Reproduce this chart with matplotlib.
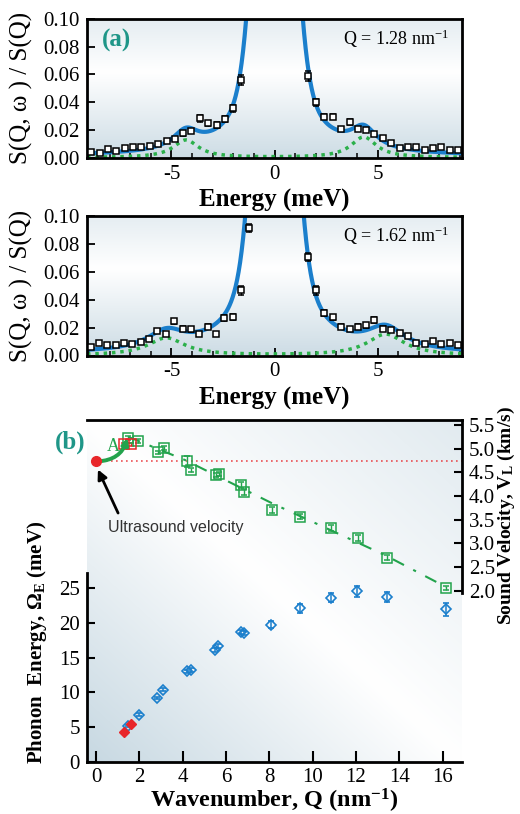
import numpy as np
import matplotlib
matplotlib.use("Agg")
import matplotlib.pyplot as plt

plt.rcParams['font.family'] = ['Liberation Serif', 'DejaVu Serif']
plt.rcParams['mathtext.fontset'] = 'custom'
plt.rcParams['mathtext.rm'] = 'Liberation Serif'
plt.rcParams['mathtext.it'] = 'Liberation Serif:italic'
plt.rcParams['mathtext.bf'] = 'Liberation Serif:bold'
plt.rcParams['axes.unicode_minus'] = False

BLUE = "#1b7fcc"
GREEN = "#22a34c"
DOTGREEN = "#2bb04a"
RED = "#e8262a"
TEAL = "#1f9688"
TINT = np.array([0.77, 0.84, 0.88])

# ---- panel (a), Q = 1.28 nm-1 ----
e1 = [-8.93, -8.49, -8.08, -7.68, -7.27, -6.87, -6.46, -6.06, -5.65, -5.24,
      -4.84, -4.43, -4.03, -3.62, -3.21, -2.81, -2.40, -1.99, -1.62,
      1.62, 2.01, 2.42, 2.82, 3.23, 3.64, 4.04, 4.45, 4.85, 5.26,
      5.67, 6.07, 6.48, 6.88, 7.29, 7.69, 8.10, 8.51, 8.91]
s1 = [0.0043, 0.0031, 0.0060, 0.0048, 0.0067, 0.0077, 0.0077, 0.0087, 0.0099, 0.0120,
      0.0135, 0.0175, 0.0195, 0.0284, 0.0248, 0.0236, 0.0279, 0.0356, 0.0558,
      0.0589, 0.0399, 0.0296, 0.0296, 0.0207, 0.0260, 0.0207, 0.0202, 0.0173, 0.0144,
      0.0103, 0.0067, 0.0075, 0.0077, 0.0053, 0.0072, 0.0079, 0.0053, 0.0055]
err1 = [0.001, 0.001, 0.001, 0.001, 0.001, 0.001, 0.001, 0.001, 0.001, 0.0012,
        0.0012, 0.0015, 0.0015, 0.0025, 0.002, 0.002, 0.0022, 0.0025, 0.0035,
        0.0035, 0.0025, 0.002, 0.002, 0.0015, 0.0022, 0.0015, 0.0015, 0.0012, 0.0012,
        0.001, 0.001, 0.001, 0.001, 0.001, 0.001, 0.001, 0.001, 0.001]
# fit: central line + two side peaks
central1 = dict(h=0.30, s=0.68, c=0.15, g=0.8, bg=0.001)
peak_pos1 = [-4.30, 4.33]
peak_amp1 = [0.0127, 0.0149]
peak_w1 = 0.75

# ---- panel (a), Q = 1.62 nm-1 ----
e2 = [-8.93, -8.52, -8.12, -7.71, -7.31, -6.90, -6.49, -6.09, -5.68, -5.28,
      -4.87, -4.46, -4.06, -3.65, -3.25, -2.84, -2.44, -2.03, -1.62, -1.23,
      1.62, 2.01, 2.42, 2.82, 3.23, 3.64, 4.04, 4.45, 4.85, 5.26,
      5.67, 6.07, 6.48, 6.88, 7.29, 7.69, 8.10, 8.51, 8.91]
s2 = [0.0064, 0.0088, 0.0074, 0.0074, 0.0088, 0.0079, 0.0096, 0.0118, 0.0176, 0.0152,
      0.0244, 0.0193, 0.0188, 0.0152, 0.0205, 0.0154, 0.0270, 0.0278, 0.0467, 0.0913,
      0.0707, 0.0467, 0.0302, 0.0273, 0.0205, 0.0188, 0.0205, 0.0217, 0.0253, 0.0193,
      0.0185, 0.0161, 0.0137, 0.0093, 0.0079, 0.0103, 0.0079, 0.0093, 0.0076]
err2 = [0.001, 0.001, 0.001, 0.001, 0.001, 0.001, 0.001, 0.0012, 0.0015, 0.0015,
        0.002, 0.0018, 0.0018, 0.0015, 0.0018, 0.0015, 0.0022, 0.0022, 0.003, 0.003,
        0.003, 0.003, 0.0022, 0.002, 0.0018, 0.0015, 0.0018, 0.0018, 0.002, 0.0015,
        0.0015, 0.0015, 0.0012, 0.001, 0.001, 0.001, 0.001, 0.001, 0.001]
central2 = dict(h=0.30, s=0.68, c=0.17, g=0.8, bg=0.001)
peak_pos2 = [-5.25, 5.40]
peak_amp2 = [0.0125, 0.0152]
peak_w2 = 1.1

# ---- panel (b) ----
q_v = [1.49, 1.95, 2.85, 3.15, 4.18, 4.38, 5.54, 5.68, 6.69, 6.85, 8.11, 9.42, 10.83, 12.08, 13.42, 16.14]
vel = [5.22, 5.16, 4.92, 5.02, 4.73, 4.55, 4.44, 4.46, 4.23, 4.08, 3.71, 3.56, 3.32, 3.11, 2.70, 2.06]
vel_err = [0.04, 0.04, 0.04, 0.04, 0.12, 0.05, 0.04, 0.04, 0.06, 0.06, 0.06, 0.05, 0.06, 0.06, 0.06, 0.04]
q_red = [1.28, 1.60]
vel_red = [5.09, 5.09]
fit_q = [1.49, 4.11, 8.11, 13.34, 16.14]
fit_v = [5.25, 4.76, 3.85, 2.75, 2.08]
v_ultrasound = 4.73

q_e = [1.46, 2.0, 2.8, 3.11, 4.18, 4.38, 5.49, 5.65, 6.69, 6.85, 8.08, 9.42, 10.83, 12.06, 13.42, 16.14]
omega = [5.12, 6.79, 9.19, 10.38, 13.0, 13.2, 16.1, 16.65, 18.7, 18.47, 19.7, 22.06, 23.6, 24.5, 23.7, 21.9]
omega_err = [0.15, 0.2, 0.2, 0.2, 0.25, 0.25, 0.3, 0.3, 0.3, 0.3, 0.5, 0.65, 0.7, 0.75, 0.7, 0.9]
omega_red = [4.26, 5.45]


def background(ax, w):
    rgb = 1 - w[..., None] * (1 - TINT)
    ax.imshow(rgb, extent=(0, 1, 0, 1), transform=ax.transAxes, aspect='auto',
              zorder=0, interpolation='bilinear', origin='lower')


def central(E, h, s, c, g, bg):
    return h * np.exp(-E ** 2 / (2 * s ** 2)) + c / (E ** 2 + g ** 2) + bg


def side_peaks(E, pos, amp, w):
    return sum(a * w ** 2 / ((E - p) ** 2 + w ** 2) for p, a in zip(pos, amp))


def energy_panel(ax, e, s, err, cen, pos, amp, w, qtext, tag=None):
    yy = np.linspace(0, 1, 200)[:, None] * np.ones((1, 2))
    background(ax, np.interp(yy, [0, 0.62, 1], [0.85, 0.0, 0.45]))
    E = np.linspace(-9.1, 9.1, 1500)
    inel = side_peaks(E, pos, amp, w)
    ax.plot(E, central(E, **cen) + inel, color=BLUE, lw=3, zorder=2)
    ax.plot(E, inel, color=DOTGREEN, lw=2.5, ls=(0, (1, 1.4)), zorder=2)
    ax.errorbar(e, s, yerr=err, fmt='s', ms=5, mfc='white', mec='black', mew=1.1,
                ecolor='black', elinewidth=1, capsize=2.2, zorder=4)
    ax.set_xlim(-9.1, 9.1)
    ax.set_ylim(0, 0.1)
    ax.set_xticks([-5, 0, 5])
    ax.set_xticks(np.arange(-9, 10, 1), minor=True)
    ax.set_yticks(np.arange(0, 0.101, 0.02))
    ax.yaxis.set_major_formatter(plt.FormatStrFormatter('%.2f'))
    ax.tick_params(which='major', direction='in', length=6, width=1.3, labelsize=15, pad=5)
    ax.tick_params(which='minor', direction='in', length=3.5, width=1.1)
    ax.tick_params(axis='y', which='minor', left=False)
    for sp in ax.spines.values():
        sp.set_linewidth(2)
    ax.set_xlabel('Energy (meV)', fontsize=18, fontweight='bold', labelpad=4)
    ax.set_ylabel('S(Q, ω ) / S(Q)', fontsize=18)
    ax.yaxis.set_label_coords(-0.145, 0.5)
    ax.text(0.965, 0.86, qtext, transform=ax.transAxes, ha='right', va='center', fontsize=13)
    if tag:
        ax.text(0.04, 0.845, tag, transform=ax.transAxes, ha='left', va='center',
                fontsize=18, fontweight='bold', color=TEAL)


fig = plt.figure(figsize=(5.2, 8.14), dpi=100)
ax1 = fig.add_axes([87 / 520, 1 - 157.7 / 814, 375 / 520, 138.7 / 814])
ax2 = fig.add_axes([87 / 520, 1 - 355.5 / 814, 375 / 520, 139.5 / 814])
axb = fig.add_axes([87 / 520, 1 - 762 / 814, 375 / 520, 342 / 814])

energy_panel(ax1, e1, s1, err1, central1, peak_pos1, peak_amp1, peak_w1,
             r'Q = 1.28 nm$^{-1}$', tag='(a)')
energy_panel(ax2, e2, s2, err2, central2, peak_pos2, peak_amp2, peak_w2,
             r'Q = 1.62 nm$^{-1}$')

# panel (b): background
xx, yy = np.meshgrid(np.linspace(0, 1, 200), np.linspace(0, 1, 200))
background(axb, np.interp((xx + yy) / 2, [0, 0.5, 1], [0.95, 0.0, 0.5]))

axb.errorbar(q_e, omega, yerr=omega_err, fmt='D', ms=5, mfc='none', mec=BLUE, mew=1.2,
             ecolor=BLUE, elinewidth=1.1, capsize=2.2, zorder=3)
axb.plot(q_red, omega_red, 'D', ms=5, color=RED, zorder=4)
axb.set_xlim(-0.415, 16.89)
axb.set_ylim(0, 49.1)
axb.set_xticks(np.arange(0, 17, 2))
axb.set_yticks(np.arange(0, 26, 5))
axb.tick_params(direction='in', width=1.5, labelsize=15)
axb.tick_params(axis='x', length=8, pad=4)
axb.tick_params(axis='y', length=6, pad=5)
axb.spines['right'].set_visible(False)
axb.spines['left'].set_bounds(0, 27.1)
for sp in ['left', 'bottom', 'top']:
    axb.spines[sp].set_linewidth(2)
axb.set_xlabel(r'Wavenumber, Q (nm$^{\mathbf{-1}}$)', fontsize=17.5, fontweight='bold')
axb.xaxis.set_label_coords(0.5, -0.072)
axb.set_ylabel(r'Phonon  Energy, $\mathbf{\Omega_E}$ (meV)', fontsize=15, fontweight='bold')
axb.yaxis.set_label_coords(-0.1, 0.35)

axv = axb.twinx()
axv.set_ylim(-1.62, 5.606)
axv.hlines(v_ultrasound, 0, axb.get_xlim()[1], color=RED, lw=1.2, ls=(0, (1, 2)),
           alpha=0.8, zorder=1)
axv.plot(fit_q, fit_v, color=GREEN, lw=1.5, ls=(0, (6, 5, 1.5, 5)), zorder=2)
axv.errorbar(q_v, vel, yerr=vel_err, fmt='s', ms=6.5, mfc='none', mec=GREEN, mew=1.1,
             ecolor=GREEN, elinewidth=1, capsize=2, zorder=3)
axv.errorbar(q_red, vel_red, yerr=[0.04, 0.04], fmt='s', ms=6.5, mfc='none', mec=RED, mew=1.1,
             ecolor=RED, elinewidth=1, capsize=2, zorder=3)
axv.plot([0], [v_ultrasound], 'o', ms=7, color=RED, zorder=5, clip_on=False)
axv.annotate('', xy=(1.45, 5.23), xytext=(0.08, v_ultrasound),
             arrowprops=dict(arrowstyle='-|>', color=GREEN, lw=2.8, mutation_scale=9,
                             connectionstyle='arc3,rad=0.35', shrinkA=0, shrinkB=0), zorder=4)
axv.text(0.785, 5.05, 'A', color=GREEN, fontsize=13, ha='center', va='center')
axv.annotate('', xy=(0.09, 4.56), xytext=(1.02, 3.64),
             arrowprops=dict(arrowstyle='-|>', color='black', lw=2, mutation_scale=14,
                             shrinkA=0, shrinkB=0))
axv.text(0.55, 3.33, 'Ultrasound velocity', family=['Liberation Sans', 'DejaVu Sans'],
         fontsize=11.5, color='#333333', ha='left', va='center')
axv.set_yticks(np.arange(2.0, 5.51, 0.5))
axv.yaxis.set_major_formatter(plt.FormatStrFormatter('%.1f'))
axv.tick_params(direction='in', length=6, width=1.5, labelsize=15, pad=5)
for sp in ['left', 'bottom', 'top']:
    axv.spines[sp].set_visible(False)
axv.spines['right'].set_bounds(1.96, 5.606)
axv.spines['right'].set_linewidth(2)
axv.set_ylabel(r'Sound Velocity, $\mathbf{V_L}$ (km/s)', fontsize=14, fontweight='bold')
axv.yaxis.set_label_coords(1.09, 0.72)

fig.text(70 / 520, 1 - 442 / 814, '(b)', fontsize=18, fontweight='bold', color=TEAL,
         ha='center', va='center')

fig.savefig('out.png', dpi=100)
